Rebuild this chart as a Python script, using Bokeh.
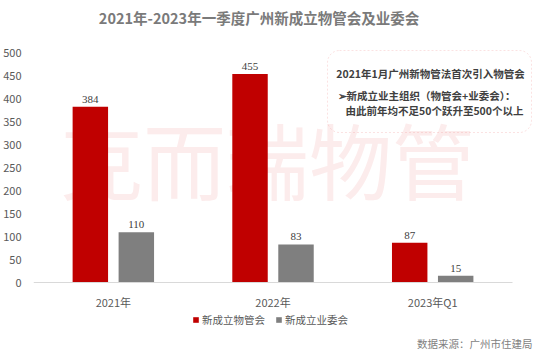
from bokeh.plotting import figure
from bokeh.models import (ColumnDataSource, Range1d, LabelSet, Label, Legend, LegendItem,
                          FixedTicker, BoxAnnotation)
from bokeh.transform import dodge
from bokeh.embed import file_html
from bokeh.resources import INLINE

# ---- data ----
categories = ["2021年", "2022年", "2023年Q1"]
series_names = ["新成立物管会", "新成立业委会"]
wuguanhui = [384, 455, 87]
yeweihui = [110, 83, 15]
y_ticks = [0, 50, 100, 150, 200, 250, 300, 350, 400, 450, 500]

title_text = "2021年-2023年一季度广州新成立物管会及业委会"
note_lines = ["2021年1月广州新物管法首次引入物管会",
              "➢新成立业主组织（物管会+业委会）：",
              "由此前年均不足50个跃升至500个以上"]
source_text = "数据来源：广州市住建局"
watermark_text = "克而瑞物管"

RED = "#C00000"
GREY = "#7F7F7F"
CJK = "Noto Sans CJK SC"

n = len(categories)
centers = [i + 0.5 for i in range(n)]
src = ColumnDataSource(dict(xc=centers, a=wuguanhui, b=yeweihui,
                            la=[str(v) for v in wuguanhui], lb=[str(v) for v in yeweihui]))

# frame fills the whole canvas height so that texts outside the bar area are not clipped
p = figure(x_range=Range1d(0, n * 1.0563), y_range=Range1d(-165.9, 615.7),
           width=539, height=358, output_backend="svg", toolbar_location=None,
           min_border_left=33, min_border_right=0, min_border_top=0, min_border_bottom=0)
p.outline_line_color = None
p.xgrid.grid_line_color = None
p.ygrid.grid_line_color = None
p.background_fill_color = "white"

# watermark
p.add_layout(Label(x=234, y=201, x_units="screen", y_units="screen", text=watermark_text,
                   text_font=CJK, text_font_size="83px", text_font_style="normal",
                   text_color="#fcecec", text_align="center", text_baseline="middle",
                   level="underlay"))

off = 0.144
bw = 0.222
r1 = p.vbar(x=dodge("xc", -off), top="a", width=bw, source=src,
            fill_color=RED, line_color=None)
r2 = p.vbar(x=dodge("xc", off), top="b", width=bw, source=src,
            fill_color=GREY, line_color=None)

for col, lab, o in (("a", "la", -off), ("b", "lb", off)):
    p.add_layout(LabelSet(x=dodge("xc", o), y=col, text=lab, source=src,
                          y_offset=4, text_align="center", text_baseline="bottom",
                          text_font=CJK, text_font_size="11px", text_color="#404040"))

# axes
p.yaxis.ticker = FixedTicker(ticks=y_ticks)
p.yaxis.axis_line_color = None
p.yaxis.major_tick_line_color = None
p.yaxis.minor_tick_line_color = None
p.yaxis.major_tick_out = 0
p.yaxis.major_tick_in = 0
p.yaxis.minor_tick_out = 0
p.yaxis.minor_tick_in = 0
p.yaxis.major_label_standoff = 12
p.yaxis.major_label_text_font = CJK
p.yaxis.major_label_text_font_size = "11px"
p.yaxis.major_label_text_color = "#595959"

p.xaxis.fixed_location = 0
p.xaxis.ticker = FixedTicker(ticks=centers)
p.xaxis.major_label_overrides = {c: lab for c, lab in zip(centers, categories)}
p.xaxis.bounds = (0, n)
p.xaxis.axis_line_color = "#d9d9d9"
p.xaxis.axis_line_width = 1
p.xaxis.major_tick_line_color = None
p.xaxis.minor_tick_line_color = None
p.xaxis.major_tick_out = 0
p.xaxis.major_tick_in = 0
p.xaxis.minor_tick_out = 0
p.xaxis.minor_tick_in = 0
p.xaxis.major_label_standoff = 11
p.xaxis.major_label_text_font = CJK
p.xaxis.major_label_text_font_size = "11px"
p.xaxis.major_label_text_color = "#595959"

# title
p.add_layout(Label(x=225.5, y=341, x_units="screen", y_units="screen", text=title_text,
                   text_font=CJK, text_font_size="14.5px", text_font_style="bold",
                   text_color="#7a7a7a", text_align="center", text_baseline="middle"))

# note box
p.add_layout(BoxAnnotation(left=294, right=498, top=308, bottom=226,
                           left_units="screen", right_units="screen",
                           top_units="screen", bottom_units="screen",
                           fill_alpha=0, line_color="#f2a0a0", line_dash="2 2", line_width=1,
                           border_radius=12))
for txt, sx, sy, align in ((note_lines[0], 397, 285, "center"),
                           (note_lines[1], 304, 263, "left"),
                           (note_lines[2], 312, 248, "left")):
    p.add_layout(Label(x=sx, y=sy, x_units="screen", y_units="screen", text=txt,
                       text_font=CJK, text_font_size="10.5px", text_font_style="bold",
                       text_color="#404040", text_align=align, text_baseline="middle"))

# legend
p.add_layout(Legend(items=[LegendItem(label=series_names[0], renderers=[r1]),
                           LegendItem(label=series_names[1], renderers=[r2])],
                    location=(159, 31), orientation="horizontal",
                    padding=0, margin=0, spacing=10, label_standoff=3,
                    glyph_width=7, glyph_height=7, label_height=12,
                    label_text_font=CJK, label_text_font_size="10.5px",
                    label_text_color="#595959",
                    background_fill_alpha=0, border_line_color=None))

# source
p.add_layout(Label(x=499, y=15, x_units="screen", y_units="screen", text=source_text,
                   text_font=CJK, text_font_size="10.5px", text_color="#7f7f7f",
                   text_align="right", text_baseline="middle"))

open("out.html", "w").write(file_html(p, INLINE))
